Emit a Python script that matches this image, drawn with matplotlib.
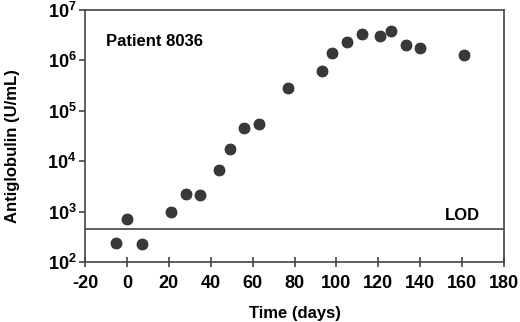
import math

import matplotlib.pyplot as plt
import matplotlib.ticker as mticker

plt.rcParams["font.family"] = ["Liberation Sans", "DejaVu Sans"]
plt.rcParams["font.weight"] = "bold"
plt.rcParams["axes.unicode_minus"] = False
plt.rcParams["mathtext.fontset"] = "custom"
plt.rcParams["mathtext.rm"] = "Liberation Sans:bold"
plt.rcParams["mathtext.bf"] = "Liberation Sans:bold"

# 数据
days = [-5, 0, 7, 21, 28, 35, 44, 49, 56, 63, 77, 93, 98, 105, 112, 121, 126, 133, 140, 161]
antiglobulin = [242, 713, 228, 980, 2230, 2100, 6680, 17450, 46200, 54700,
                283000, 625000, 1.42e6, 2.35e6, 3.3e6, 3.09e6, 3.77e6, 2.0e6, 1.76e6, 1.28e6]
lod = 450
x_ticks = list(range(-20, 181, 20))
y_ticks = [1e2, 1e3, 1e4, 1e5, 1e6, 1e7]

fig = plt.figure(figsize=(5.2, 3.22), dpi=100)
ax = fig.add_axes([85 / 520, 1 - 262 / 322, 419 / 520, 252 / 322])

ax.scatter(days, antiglobulin, s=62, color="#383838", edgecolors="#2a2a2a", linewidths=0.6, zorder=3)
ax.axhline(lod, color="#444444", linewidth=1.2, zorder=2)

ax.set_yscale("log")
ax.set_xlim(-20, 180)
ax.set_ylim(1e2, 1e7)
ax.set_xticks(x_ticks)
ax.set_yticks(y_ticks)
ax.yaxis.set_minor_locator(mticker.NullLocator())
ax.yaxis.set_major_formatter(
    mticker.FuncFormatter(lambda v, p: "$\\mathbf{10^{%d}}$" % round(math.log10(v)))
)

for s in ax.spines.values():
    s.set_color("#444444")
    s.set_linewidth(1.2)

ax.tick_params(axis="x", direction="inout", length=7, width=1.2, color="#444444",
               labelsize=13, pad=6)
ax.tick_params(axis="y", direction="out", length=4, width=1.2, color="#444444",
               labelsize=13, pad=2)

ax.set_xlabel("Time (days)", fontsize=12, fontweight="bold", labelpad=10)
ax.set_ylabel("Antiglobulin (U/mL)", fontsize=12, fontweight="bold")
ax.yaxis.set_label_coords(-0.156, 0.46)

ax.text(-10, 10 ** 6.38, "Patient 8036", fontsize=12, fontweight="bold", va="center")
ax.text(160, 10 ** 2.92, "LOD", fontsize=12, fontweight="bold", va="center", ha="center")

fig.savefig("out.png", dpi=100)
